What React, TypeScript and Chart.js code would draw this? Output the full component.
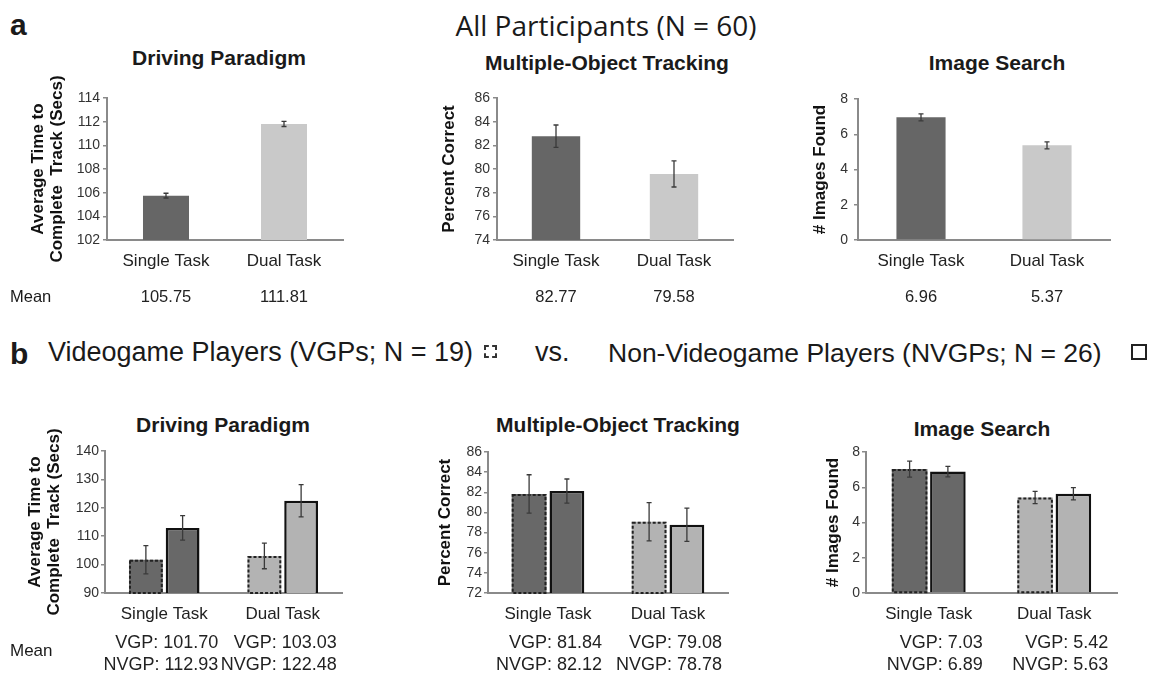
import React, { useEffect, useRef } from "react";
import { Chart, registerables } from "chart.js";
Chart.register(...registerables);

const FONT = "'Liberation Sans', Arial, Helvetica, sans-serif";

// ---------- data ----------
const categories = ["Single Task", "Dual Task"];

const allDrivingMeans = [105.75, 111.81];
const allDrivingErr = [0.2, 0.22];
const allMotMeans = [82.77, 79.58];
const allMotErr = [0.95, 1.1];
const allSearchMeans = [6.96, 5.37];
const allSearchErr = [0.2, 0.2];

const vgpDrivingMeans = [101.7, 103.03];
const vgpDrivingErr = [5.0, 4.5];
const nvgpDrivingMeans = [112.93, 122.48];
const nvgpDrivingErr = [4.3, 5.7];
const vgpMotMeans = [81.84, 79.08];
const vgpMotErr = [1.9, 1.9];
const nvgpMotMeans = [82.12, 78.78];
const nvgpMotErr = [1.2, 1.65];
const vgpSearchMeans = [7.03, 5.42];
const vgpSearchErr = [0.45, 0.35];
const nvgpSearchMeans = [6.89, 5.63];
const nvgpSearchErr = [0.3, 0.35];

// axis ranges [min, max, step]
const allDrivingAxis = [102, 114, 2];
const allMotAxis = [74, 86, 2];
const allSearchAxis = [0, 8, 2];
const grpDrivingAxis = [90, 140, 10];
const grpMotAxis = [72, 86, 2];
const grpSearchAxis = [0, 8, 2];

const drivingTitle = "Driving Paradigm";
const motTitle = "Multiple-Object Tracking";
const searchTitle = "Image Search";
const drivingYTitle = ["Average Time to", "Complete  Track (Secs)"];
const motYTitle = ["Percent Correct"];
const searchYTitle = ["# Images Found"];

// ---------- colours ----------
const DARK_TOP = "#666666";
const LIGHT_TOP = "#c9c9c9";
const DARK_BOT = "#686868";
const LIGHT_BOT = "#b3b3b3";
const AXIS = "#8a8a8a";

// ---------- plugins ----------
const dashedBorderPlugin = {
  id: "dashedBorder",
  afterDatasetsDraw(chart: any) {
    const ctx = chart.ctx;
    const area = chart.chartArea;
    chart.data.datasets.forEach((ds: any, di: number) => {
      if (!ds.dashedBorder) return;
      const meta = chart.getDatasetMeta(di);
      meta.data.forEach((el: any) => {
        const p = el.getProps(["x", "y", "base", "width"], true);
        const base = Math.min(p.base, area.bottom);
        ctx.save();
        ctx.strokeStyle = "#222";
        ctx.lineWidth = 2;
        ctx.setLineDash([3, 2]);
        ctx.strokeRect(p.x - p.width / 2 + 1, p.y + 1, p.width - 2, base - p.y - 1);
        ctx.restore();
      });
    });
  },
};

const errorBarPlugin = {
  id: "errorBars",
  afterDatasetsDraw(chart: any) {
    const ctx = chart.ctx;
    const ys = chart.scales.y;
    chart.data.datasets.forEach((ds: any, di: number) => {
      if (!ds.errors) return;
      const meta = chart.getDatasetMeta(di);
      meta.data.forEach((el: any, i: number) => {
        const v = ds.data[i];
        const e = ds.errors[i];
        const x = el.x;
        const yt = ys.getPixelForValue(v + e);
        const yb = ys.getPixelForValue(v - e);
        ctx.save();
        ctx.strokeStyle = "#3a3a3a";
        ctx.lineWidth = 1.3;
        ctx.beginPath();
        ctx.moveTo(x, yt);
        ctx.lineTo(x, yb);
        ctx.moveTo(x - 2.5, yt);
        ctx.lineTo(x + 2.5, yt);
        ctx.moveTo(x - 2.5, yb);
        ctx.lineTo(x + 2.5, yb);
        ctx.stroke();
        ctx.restore();
      });
    });
  },
};

const meanTextPlugin = {
  id: "meanText",
  afterDraw(chart: any, _args: any, opts: any) {
    if (!opts || !opts.rows) return;
    const ctx = chart.ctx;
    const xs = chart.scales.x;
    ctx.save();
    ctx.fillStyle = "#222";
    ctx.font = `${opts.size}px ${FONT}`;
    ctx.textAlign = opts.align;
    ctx.textBaseline = "middle";
    opts.rows.forEach((row: string[], r: number) => {
      row.forEach((txt: string, i: number) => {
        const x = xs.getPixelForValue(i) + opts.dx;
        const y = chart.chartArea.bottom + opts.dy[r];
        ctx.fillText(txt, x, y);
      });
    });
    ctx.restore();
  },
};

// ---------- panel ----------
type Geo = {
  axisX: number;
  plotTop: number;
  plotBottom: number;
  plotRight: number;
  yTitleX: number;
  tickPad: number;
};

type PanelProps = {
  geo: Geo;
  axis: number[];
  yTitle: string[];
  datasets: any[];
  meanRows: string[][];
  meanOpts: { dy: number[]; align: string; dx: number; size: number };
};

const PAD_TOP = 40;
const PAD_RIGHT = 6;
const X_HEIGHT = 85;
const Y_TITLE_SIZE = 17;

function Panel({ geo, axis, yTitle, datasets, meanRows, meanOpts }: PanelProps) {
  const ref = useRef<HTMLCanvasElement>(null);
  const left = geo.yTitleX - 14;
  const top = geo.plotTop - PAD_TOP;
  const width = geo.plotRight + PAD_RIGHT - left;
  const height = PAD_TOP + (geo.plotBottom - geo.plotTop) + X_HEIGHT;
  const yWidth = geo.axisX - left;
  const lh = Y_TITLE_SIZE * 1.15;
  const titlePad = geo.yTitleX - left - lh / 2;

  useEffect(() => {
    const chart = new Chart(ref.current as HTMLCanvasElement, {
      type: "bar",
      data: { labels: categories, datasets },
      options: {
        animation: false,
        responsive: false,
        maintainAspectRatio: false,
        layout: { padding: { top: PAD_TOP, right: PAD_RIGHT, left: 0, bottom: 0 } },
        plugins: {
          legend: { display: false },
          tooltip: { enabled: false },
          meanText: { rows: meanRows, ...meanOpts },
        } as any,
        scales: {
          x: {
            grid: { display: false, drawTicks: false },
            border: { display: true, color: AXIS, width: 2 },
            ticks: { color: "#222", font: { family: FONT, size: 17 }, padding: 11 },
            afterFit: (s: any) => {
              s.height = X_HEIGHT;
            },
          },
          y: {
            min: axis[0],
            max: axis[1],
            ticks: {
              stepSize: axis[2],
              color: "#333",
              font: { family: FONT, size: 14 },
              padding: geo.tickPad,
            },
            grid: { drawOnChartArea: false, drawTicks: true, tickLength: 4, color: AXIS, lineWidth: 1.5 },
            border: { display: true, color: AXIS, width: 2 },
            title: {
              display: true,
              text: yTitle,
              color: "#111",
              font: { family: FONT, size: Y_TITLE_SIZE, weight: "bold", lineHeight: 1.15 },
              padding: { top: titlePad, bottom: 0 },
            },
            afterFit: (s: any) => {
              s.width = yWidth;
            },
          },
        },
      } as any,
      plugins: [dashedBorderPlugin, errorBarPlugin, meanTextPlugin],
    });
    return () => chart.destroy();
  }, []);

  return (
    <canvas
      ref={ref}
      width={width}
      height={height}
      style={{ position: "absolute", left, top, width, height }}
    />
  );
}

function singleDataset(values: number[], errors: number[], pct: number) {
  return [
    {
      data: values,
      errors,
      backgroundColor: [DARK_TOP, LIGHT_TOP],
      borderWidth: 0,
      barPercentage: pct,
      categoryPercentage: 1,
    },
  ];
}

function groupDatasets(vgp: number[], vgpErr: number[], nvgp: number[], nvgpErr: number[], cat: number, bar: number) {
  return [
    {
      label: "VGP",
      data: vgp,
      errors: vgpErr,
      dashedBorder: true,
      backgroundColor: [DARK_BOT, LIGHT_BOT],
      borderWidth: 0,
      barPercentage: bar,
      categoryPercentage: cat,
    },
    {
      label: "NVGP",
      data: nvgp,
      errors: nvgpErr,
      backgroundColor: [DARK_BOT, LIGHT_BOT],
      borderColor: "#111",
      borderWidth: 2.5,
      barPercentage: bar,
      categoryPercentage: cat,
    },
  ];
}

const topMean = (vals: number[]) => [vals.map((v) => v.toFixed(2))];
const grpMean = (vgp: number[], nvgp: number[]) => [
  vgp.map((v) => `VGP: ${v.toFixed(2)}`),
  nvgp.map((v) => `NVGP: ${v.toFixed(2)}`),
];
const topMeanOpts = { dy: [57], align: "center", dx: 0, size: 16.5 };
const grpMeanOpts = { dy: [50, 72], align: "right", dx: 54, size: 18 };

function Text({ x, y, children, size, bold, center, family }: any) {
  return (
    <div
      style={{
        position: "absolute",
        left: x,
        top: y - size * 0.65,
        fontSize: size,
        lineHeight: `${size * 1.3}px`,
        fontWeight: bold ? "bold" : "normal",
        fontFamily: family || FONT,
        color: "#1a1a1a",
        whiteSpace: "nowrap",
        transform: center ? "translateX(-50%)" : undefined,
      }}
    >
      {children}
    </div>
  );
}

export default function App() {
  return (
    <div
      style={{
        position: "absolute",
        left: 0,
        top: 0,
        width: 1156,
        height: 676,
        overflow: "hidden",
        background: "#fff",
      }}
    >
      {/* header a */}
      <Text x={10} y={24} size={30} bold>a</Text>
      <Text x={606} y={25} size={28} center family="'Open Sans', sans-serif">All Participants (N = 60)</Text>

      <Text x={219} y={58} size={21} bold center>{drivingTitle}</Text>
      <Text x={607} y={63} size={21} bold center>{motTitle}</Text>
      <Text x={997} y={63} size={21} bold center>{searchTitle}</Text>

      <Panel
        geo={{ axisX: 107, plotTop: 98, plotBottom: 240, plotRight: 343, yTitleX: 38, tickPad: 3 }}
        axis={allDrivingAxis}
        yTitle={drivingYTitle}
        datasets={singleDataset(allDrivingMeans, allDrivingErr, 0.39)}
        meanRows={topMean(allDrivingMeans)}
        meanOpts={topMeanOpts}
      />
      <Panel
        geo={{ axisX: 497, plotTop: 98, plotBottom: 240, plotRight: 733, yTitleX: 449, tickPad: 3 }}
        axis={allMotAxis}
        yTitle={motYTitle}
        datasets={singleDataset(allMotMeans, allMotErr, 0.41)}
        meanRows={topMean(allMotMeans)}
        meanOpts={topMeanOpts}
      />
      <Panel
        geo={{ axisX: 858, plotTop: 99, plotBottom: 240, plotRight: 1110, yTitleX: 820, tickPad: 6 }}
        axis={allSearchAxis}
        yTitle={searchYTitle}
        datasets={singleDataset(allSearchMeans, allSearchErr, 0.39)}
        meanRows={topMean(allSearchMeans)}
        meanOpts={topMeanOpts}
      />
      <Text x={10} y={297} size={16.5}>Mean</Text>

      {/* header b */}
      <Text x={10} y={353} size={30} bold>b</Text>
      <Text x={48} y={353} size={27}>Videogame Players (VGPs; N = 19)</Text>
      <div
        style={{
          position: "absolute",
          left: 484,
          top: 345,
          width: 9,
          height: 9,
          border: "2px dashed #333",
        }}
      />
      <Text x={535} y={353} size={27}>vs.</Text>
      <Text x={608} y={353} size={26.5}>Non-Videogame Players (NVGPs; N = 26)</Text>
      <div
        style={{
          position: "absolute",
          left: 1131,
          top: 344,
          width: 12,
          height: 12,
          border: "2px solid #222",
        }}
      />

      <Text x={223} y={425} size={21} bold center>{drivingTitle}</Text>
      <Text x={618} y={425} size={21} bold center>{motTitle}</Text>
      <Text x={982} y={429} size={21} bold center>{searchTitle}</Text>

      <Panel
        geo={{ axisX: 105, plotTop: 451, plotBottom: 593, plotRight: 342, yTitleX: 35, tickPad: 2 }}
        axis={grpDrivingAxis}
        yTitle={drivingYTitle}
        datasets={groupDatasets(vgpDrivingMeans, vgpDrivingErr, nvgpDrivingMeans, nvgpDrivingErr, 0.62, 0.92)}
        meanRows={grpMean(vgpDrivingMeans, nvgpDrivingMeans)}
        meanOpts={grpMeanOpts}
      />
      <Panel
        geo={{ axisX: 488, plotTop: 452, plotBottom: 593, plotRight: 728, yTitleX: 445, tickPad: 2 }}
        axis={grpMotAxis}
        yTitle={motYTitle}
        datasets={groupDatasets(vgpMotMeans, vgpMotErr, nvgpMotMeans, nvgpMotErr, 0.63, 0.92)}
        meanRows={grpMean(vgpMotMeans, nvgpMotMeans)}
        meanOpts={grpMeanOpts}
      />
      <Panel
        geo={{ axisX: 866, plotTop: 452, plotBottom: 593, plotRight: 1117, yTitleX: 833, tickPad: 2 }}
        axis={grpSearchAxis}
        yTitle={searchYTitle}
        datasets={groupDatasets(vgpSearchMeans, vgpSearchErr, nvgpSearchMeans, nvgpSearchErr, 0.61, 0.93)}
        meanRows={grpMean(vgpSearchMeans, nvgpSearchMeans)}
        meanOpts={grpMeanOpts}
      />
      <Text x={10} y={651} size={17}>Mean</Text>
    </div>
  );
}
